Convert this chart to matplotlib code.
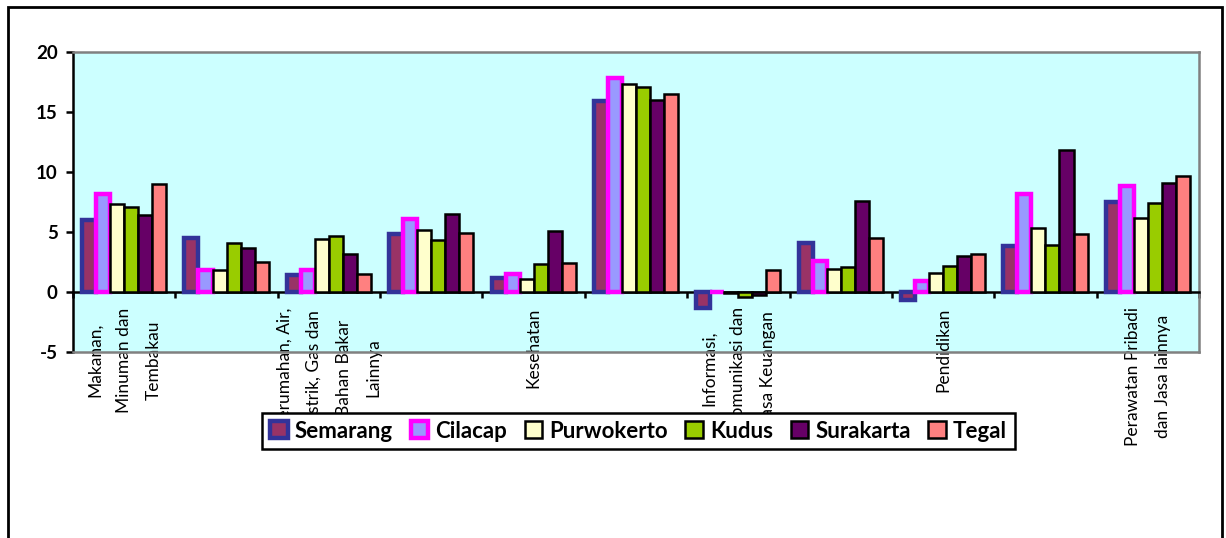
import matplotlib
matplotlib.use("Agg")
import matplotlib.pyplot as plt
import numpy as np
from matplotlib.patches import Rectangle

plt.rcParams["font.family"] = ["Lato", "DejaVu Sans"]
plt.rcParams["axes.unicode_minus"] = False

categories = [
    "Makanan,\nMinuman dan\nTembakau",
    "Pakaian dan\nAlas Kaki",
    "Perumahan, Air,\nListrik, Gas dan\nBahan Bakar\nLainnya",
    "Perlengkapan,\nPeralatan dan\nPemeliharaan Rutin\nRumah Tangga",
    "Kesehatan",
    "Transportasi",
    "Informasi,\nKomunikasi dan\nJasa Keuangan",
    "Rekreasi,\nOlahraga dan\nBudaya",
    "Pendidikan",
    "Penyediaan\nMakanan dan\nMinuman/Restoran",
    "Perawatan Pribadi\ndan Jasa lainnya",
]
# Excel skipped every other category label
shown_labels = [c if i % 2 == 0 else "" for i, c in enumerate(categories)]

cities = ["Semarang", "Cilacap", "Purwokerto", "Kudus", "Surakarta", "Tegal"]

semarang = [6.0, 4.5, 1.4, 4.8, 1.2, 15.9, -1.3, 4.1, -0.7, 3.8, 7.5]
cilacap = [8.2, 1.8, 1.8, 6.1, 1.5, 17.8, 0.0, 2.6, 0.9, 8.2, 8.8]
purwokerto = [7.3, 1.8, 4.4, 5.2, 1.05, 17.3, -0.05, 1.9, 1.6, 5.3, 6.2]
kudus = [7.1, 4.1, 4.65, 4.35, 2.3, 17.05, -0.4, 2.05, 2.2, 3.9, 7.45]
surakarta = [6.4, 3.7, 3.2, 6.5, 5.1, 16.0, -0.25, 7.6, 3.0, 11.8, 9.1]
tegal = [9.0, 2.5, 1.5, 4.9, 2.45, 16.5, 1.8, 4.5, 3.2, 4.8, 9.65]

series = [semarang, cilacap, purwokerto, kudus, surakarta, tegal]
faces = ["#993366", "#9999FF", "#FFFFCC", "#99CC00", "#660066", "#FF8080"]
edges = ["#333399", "#FF00FF", "black", "black", "black", "black"]
edge_w = [3.2, 3.2, 1.8, 1.8, 1.8, 1.8]

fig = plt.figure(figsize=(12.26, 5.38), dpi=100)
ax = fig.add_axes([73 / 1226, 1 - 352 / 538, (1199 - 73) / 1226, 300 / 538])
ax.set_facecolor("#CCFFFF")

x = np.arange(len(categories))
bw = 0.137
for i, vals in enumerate(series):
    ax.bar(x + (i - 2.5) * bw, vals, bw, color=faces[i], edgecolor=edges[i],
           linewidth=edge_w[i], label=cities[i], zorder=3)

ax.set_xlim(-0.5, len(categories) - 0.5)
ax.set_ylim(-5, 20)
ax.set_yticks([-5, 0, 5, 10, 15, 20])
ax.tick_params(axis="y", length=5, width=1.8, pad=6, labelsize=13.5)
for t in ax.get_yticklabels():
    t.set_fontweight("bold")

ax.spines["bottom"].set_position(("data", 0))
ax.spines["bottom"].set_linewidth(1.8)
ax.spines["left"].set_linewidth(1.8)
for s in ["top", "right"]:
    ax.spines[s].set_color("#808080")
    ax.spines[s].set_linewidth(1.8)
ax.axhline(-5, color="#808080", lw=1.8, clip_on=False, zorder=5)

ax.set_xticks(np.arange(len(categories) + 1) - 0.5)
ax.set_xticklabels([])
ax.tick_params(axis="x", which="major", length=4, width=1.8, direction="out")
ax.set_xticks(x, minor=True)
ax.set_xticklabels(shown_labels, minor=True, rotation=90, va="top", ha="center",
                   multialignment="center", fontsize=12.5, linespacing=2.05)
ax.tick_params(axis="x", which="minor", length=0, pad=11)

leg = fig.legend(loc="center", bbox_to_anchor=(638.5 / 1226, 1 - 431 / 538),
                 ncol=6, frameon=True, fancybox=False, framealpha=1,
                 edgecolor="black", handlelength=0.8, handleheight=0.8,
                 handletextpad=0.3, columnspacing=0.8, borderpad=0.35,
                 prop={"weight": "bold", "size": 16})
leg.get_frame().set_linewidth(1.8)

fig.add_artist(Rectangle((8 / 1226, -0.1), (1222 - 8) / 1226, 1.1 - 7 / 538,
                         transform=fig.transFigure, fill=False,
                         edgecolor="black", linewidth=2))

fig.savefig("out.png", dpi=100)
